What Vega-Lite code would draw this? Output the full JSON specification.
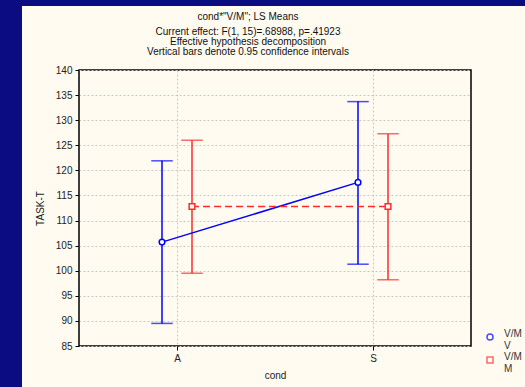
{
  "$schema": "https://vega.github.io/schema/vega-lite/v6.json",
  "autosize": "none",
  "width": 392,
  "height": 276,
  "padding": {"left": 79, "top": 70, "right": 54, "bottom": 41},
  "background": "#fffbf0",
  "title": {
    "text": "cond*\"V/M\"; LS Means",
    "subtitle": ["Current effect: F(1, 15)=.68988, p=.41923", "Effective hypothesis decomposition", "Vertical bars denote 0.95 confidence intervals"],
    "anchor": "middle",
    "frame": "group",
    "dx": -27,
    "offset": -57,
    "font": "Liberation Sans",
    "fontSize": 10,
    "fontWeight": "normal",
    "color": "#111",
    "subtitleFont": "Liberation Sans",
    "subtitleFontSize": 10,
    "subtitleColor": "#111",
    "subtitleLineHeight": 10,
    "subtitlePadding": 5
  },
  "config": {
    "view": {"stroke": "#000", "strokeWidth": 1.5},
    "axis": {
      "labelFont": "Liberation Sans",
      "labelFontSize": 10,
      "labelColor": "#222",
      "titleFont": "Liberation Sans",
      "titleFontSize": 10,
      "titleFontWeight": "normal",
      "titleColor": "#222",
      "tickColor": "#000",
      "tickSize": 4,
      "domain": false,
      "gridColor": "#c8c8c8",
      "gridDash": [2, 2],
      "gridWidth": 1
    },
    "legend": {
      "labelFont": "Liberation Sans",
      "labelFontSize": 10,
      "labelColor": "#333"
    }
  },
  "data": {
    "values": [
      {"cond": "A", "vm": "V", "mean": 105.7, "lo": 89.5, "hi": 121.9},
      {"cond": "S", "vm": "V", "mean": 117.6, "lo": 101.3, "hi": 133.7},
      {"cond": "A", "vm": "M", "mean": 112.8, "lo": 99.5, "hi": 126.0},
      {"cond": "S", "vm": "M", "mean": 112.8, "lo": 98.2, "hi": 127.3}
    ]
  },
  "encoding": {
    "x": {"field": "cond", "type": "nominal", "scale": {"type": "point", "padding": 0.5},
          "axis": {"title": "cond", "labelAngle": 0, "labelPadding": 3, "titlePadding": 7, "grid": true}},
    "xOffset": {"field": "vm", "type": "nominal", "scale": {"type": "point", "domain": ["V", "M"], "range": [-15, 15], "padding": 0}}
  },
  "layer": [
    {
      "data": {"values": [{}]},
      "mark": {"type": "rect", "color": "#0c0c82"},
      "encoding": {"x": {"value": -79}, "x2": {"value": -57}, "y": {"value": -70}, "y2": {"value": 317}, "xOffset": null}
    },
    {
      "data": {"values": [{}]},
      "mark": {"type": "rect", "color": "#0c0c82"},
      "encoding": {"x": {"value": -79}, "x2": {"value": 446}, "y": {"value": -70}, "y2": {"value": -64}, "xOffset": null}
    },
    {
      "mark": {"type": "rule", "strokeWidth": 1.5},
      "encoding": {
        "y": {"field": "lo", "type": "quantitative", "scale": {"domain": [85, 140], "nice": false},
              "axis": {"title": "TASK-T", "values": [85, 90, 95, 100, 105, 110, 115, 120, 125, 130, 135, 140], "tickCount": 12, "labelOverlap": false, "labelPadding": 3, "titlePadding": 10}},
        "y2": {"field": "hi"},
        "stroke": {"field": "vm", "type": "nominal", "scale": {"domain": ["V", "M"], "range": ["#0000ff", "#ff2b2b"]}}
      }
    },
    {
      "mark": {"type": "tick", "size": 20, "thickness": 0.01, "filled": false, "strokeWidth": 1.5},
      "encoding": {
        "y": {"field": "lo", "type": "quantitative"},
        "stroke": {"field": "vm", "type": "nominal"}
      }
    },
    {
      "mark": {"type": "tick", "size": 20, "thickness": 0.01, "filled": false, "strokeWidth": 1.5},
      "encoding": {
        "y": {"field": "hi", "type": "quantitative"},
        "stroke": {"field": "vm", "type": "nominal"}
      }
    },
    {
      "transform": [{"filter": "datum.vm === 'V'"}],
      "mark": {"type": "line", "strokeWidth": 1.5},
      "encoding": {
        "y": {"field": "mean", "type": "quantitative"},
        "stroke": {"field": "vm", "type": "nominal"}
      }
    },
    {
      "transform": [{"filter": "datum.vm === 'M'"}],
      "mark": {"type": "line", "strokeWidth": 1.5, "strokeDash": [7, 4]},
      "encoding": {
        "y": {"field": "mean", "type": "quantitative"},
        "stroke": {"field": "vm", "type": "nominal"}
      }
    },
    {
      "mark": {"type": "point", "filled": true, "fill": "white", "size": 32, "strokeWidth": 1.5, "opacity": 1},
      "encoding": {
        "y": {"field": "mean", "type": "quantitative"},
        "shape": {"field": "vm", "type": "nominal", "scale": {"domain": ["V", "M"], "range": ["circle", "square"]}},
        "stroke": {"field": "vm", "type": "nominal",
          "legend": {
            "title": null,
            "orient": "none",
            "legendX": 406,
            "legendY": 262,
            "symbolSize": 36,
            "symbolStrokeWidth": 1.5,
            "symbolFillColor": "white",
            "labelExpr": "['V/M', datum.label]",
            "labelBaseline": "alphabetic",
            "labelOffset": 9,
            "rowPadding": 1
          }}
      }
    }
  ]
}
